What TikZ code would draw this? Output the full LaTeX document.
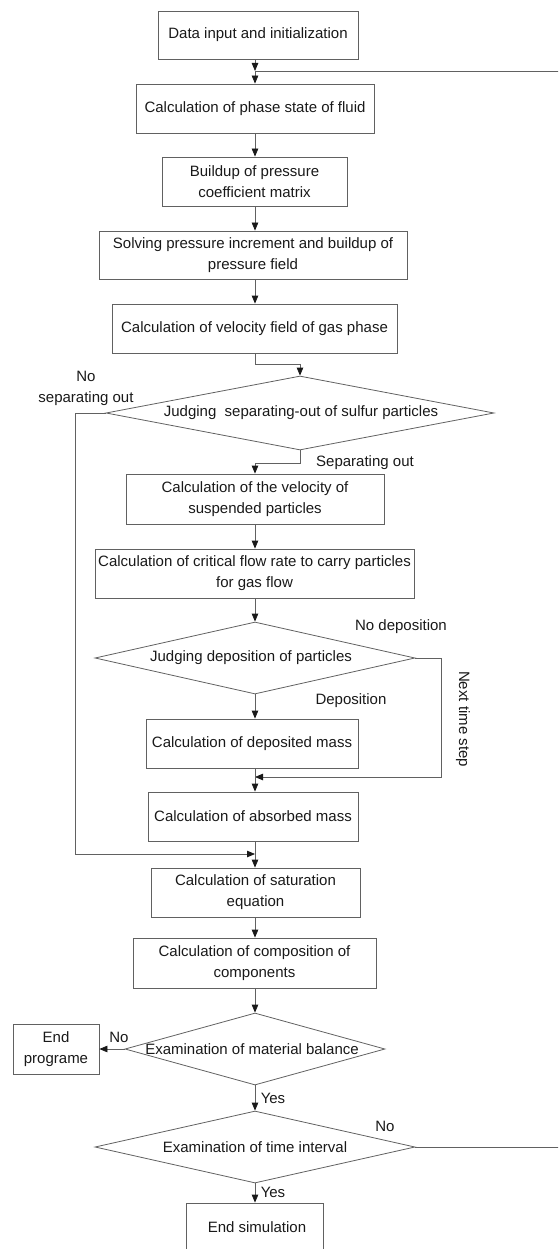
\documentclass[tikz,border=0pt]{standalone}
\usepackage{fontspec}
\setmainfont{Liberation Sans}
\usetikzlibrary{arrows.meta,shapes.geometric}
\begin{document}
\begin{tikzpicture}[x=1pt,y=-1pt,
  every node/.style={font=\fontsize{15}{21}\selectfont, text=black!90},
  stepbox/.style={draw=black!62, line width=0.8pt, rectangle, inner sep=0pt, align=center},
  decision/.style={draw=black!62, line width=0.8pt, diamond, inner sep=0pt, aspect=4},
  txt/.style={inner sep=0pt, align=center},
  conn/.style={draw=black!62, line width=0.8pt},
  arr/.style={conn, -{Triangle[length=8pt,width=6.5pt,color=black!90]}}]
\useasboundingbox (0,0) rectangle (558,1249);
\clip (0,0) rectangle (558,1249);
\coordinate (sp) at (255,0);
% boxes
\node[stepbox, minimum width=200pt, minimum height=48pt] (b1) at (258,35) {Data input and initialization};
\node[stepbox, minimum width=238pt, minimum height=49pt] (b2) at (255,108.5) {Calculation of phase state of fluid};
\node[stepbox, minimum width=185pt, minimum height=49pt] (b3) at (254.5,181.5) {Buildup of pressure\\coefficient matrix};
\node[stepbox, minimum width=308pt, minimum height=48pt] (b4) at (253,255) {Solving pressure increment and buildup of\\pressure field};
\node[stepbox, minimum width=285pt, minimum height=49pt] (b5) at (254.5,328.5) {Calculation of velocity field of gas phase};
\node[decision, minimum width=388pt, minimum height=74pt] (d1) at (300,413) {};
\node[txt] (t1) at (301,413) {Judging\ \ separating-out of sulfur particles};
\node[stepbox, minimum width=258pt, minimum height=50pt] (b6) at (255,499) {Calculation of the velocity of\\suspended particles};
\node[stepbox, minimum width=319pt, minimum height=49pt] (b7) at (254.5,573.5) {Calculation of critical flow rate to carry particles\\for gas flow};
\node[decision, minimum width=320pt, minimum height=72pt] (d2) at (255,658) {};
\node[txt] (t2) at (251,658) {Judging deposition of particles};
\node[stepbox, minimum width=212pt, minimum height=49pt] (b8) at (252,743.5) {Calculation of deposited mass};
\node[stepbox, minimum width=210pt, minimum height=49pt] (b9) at (253,816.5) {Calculation of absorbed mass};
\node[stepbox, minimum width=209pt, minimum height=49pt] (b10) at (255.5,892.5) {Calculation of saturation\\equation};
\node[stepbox, minimum width=243pt, minimum height=50pt] (b11) at (254.5,963) {Calculation of composition of\\components};
\node[decision, minimum width=260pt, minimum height=72pt] (d3) at (255,1049) {};
\node[txt] (t3) at (252,1049) {Examination of material balance};
\node[stepbox, minimum width=86pt, minimum height=50pt] (ep) at (56,1049) {End\\programe};
\node[decision, minimum width=320pt, minimum height=72pt] (d4) at (255,1147) {};
\node[txt] (t4) at (255,1147) {Examination of time interval};
\node[stepbox, minimum width=137pt, minimum height=49pt] (b12) at (254.5,1227.5) {\hspace*{5pt}End simulation};
% labels
\node[txt] (l1) at (86,388) {No\\separating out};
\node[txt] (l2) at (365,463) {Separating out};
\node[txt] (l3) at (401,627) {No deposition};
\node[txt] (l4) at (351,701) {Deposition};
\node[txt, rotate=-90] (l5) at (463,719) {Next time step};
\node[txt] (l6) at (119,1037) {No};
\node[txt] (l7) at (273,1098) {Yes};
\node[txt] (l8) at (385,1126) {No};
\node[txt] (l9) at (273,1192) {Yes};
% junction coordinates
\coordinate (j1) at (255,71);
\coordinate (j2) at (255,777);
\coordinate (j3) at (255,854);
% connectors
\draw[arr] (b1.south -| sp) -- (j1);
\draw[arr] (j1) -- (b2.north -| sp);
\draw[conn] (d4.east) -- (562,1147) -- (562,71) -- (j1);
\draw[arr] (b2.south -| sp) -- (b3.north -| sp);
\draw[arr] (b3.south -| sp) -- (b4.north -| sp);
\draw[arr] (b4.south -| sp) -- (b5.north -| sp);
\draw[arr] (b5.south -| sp) -- (255,364) -| (d1.north);
\draw[arr] (d1.south) -- (300,463) -| (b6.north -| sp);
\draw[arr] (d1.west) -- (75,413) |- (j3);
\draw[arr] (b6.south -| sp) -- (b7.north -| sp);
\draw[arr] (b7.south -| sp) -- (d2.north);
\draw[arr] (d2.south) -- (b8.north -| sp);
\draw[arr] (d2.east) -- (441,658) |- (j2);
\draw[arr] (b8.south -| sp) -- (b9.north -| sp);
\draw[arr] (b9.south -| sp) -- (b10.north -| sp);
\draw[arr] (b10.south -| sp) -- (b11.north -| sp);
\draw[arr] (b11.south -| sp) -- (d3.north);
\draw[arr] (d3.west) -- (ep.east);
\draw[arr] (d3.south) -- (d4.north);
\draw[arr] (d4.south) -- (b12.north -| sp);
\end{tikzpicture}
\end{document}
